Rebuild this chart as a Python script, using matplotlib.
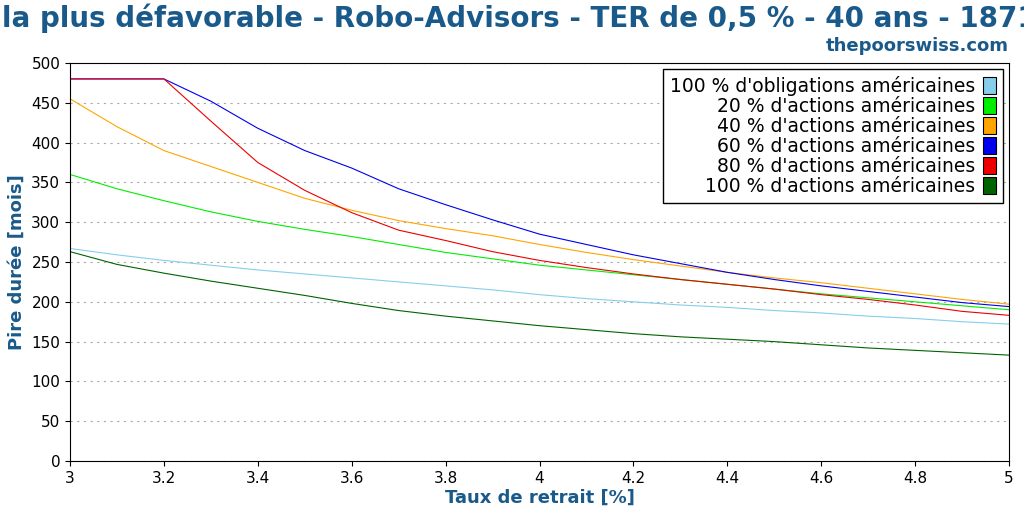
import matplotlib.pyplot as plt
import matplotlib.patches as mpatches
import numpy as np

taux = [3.0, 3.1, 3.2, 3.3, 3.4, 3.5, 3.6, 3.7, 3.8, 3.9, 4.0,
        4.1, 4.2, 4.3, 4.4, 4.5, 4.6, 4.7, 4.8, 4.9, 5.0]

oblig_100 = [267, 259, 252, 246, 240, 235, 230, 225, 220, 215, 209,
             204, 200, 196, 193, 189, 186, 182, 179, 175, 172]
actions_20 = [360, 342, 327, 313, 301, 291, 282, 272, 262, 254, 246,
              240, 234, 228, 222, 216, 210, 205, 200, 195, 190]
actions_40 = [455, 420, 390, 370, 350, 330, 315, 302, 292, 283, 272,
              262, 253, 245, 237, 230, 224, 217, 210, 203, 197]
actions_60 = [480, 480, 480, 452, 418, 390, 368, 342, 322, 303, 285,
              272, 259, 248, 237, 228, 220, 213, 206, 199, 194]
actions_80 = [480, 480, 480, 427, 375, 340, 312, 290, 277, 263, 252,
              243, 235, 228, 222, 216, 209, 203, 196, 188, 183]
actions_100 = [263, 247, 236, 226, 217, 208, 198, 189, 182, 176, 170,
               165, 160, 156, 153, 150, 146, 142, 139, 136, 133]

series = [
    ("100 % d'obligations américaines", oblig_100, '#87ceeb'),
    ("20 % d'actions américaines", actions_20, '#00ee00'),
    ("40 % d'actions américaines", actions_40, '#ffa500'),
    ("60 % d'actions américaines", actions_60, '#0000ee'),
    ("80 % d'actions américaines", actions_80, '#ee0000'),
    ("100 % d'actions américaines", actions_100, '#006400'),
]

blue = '#1a5a8a'
fig = plt.figure(figsize=(10.24, 5.12), dpi=100)
ax = fig.add_axes([70 / 1024, 51 / 512, 939 / 1024, 398 / 512])

handles = []
for label, ys, c in series:
    ax.plot(taux, ys, color=c, linewidth=0.8)
    handles.append(mpatches.Patch(facecolor=c, edgecolor='black', linewidth=0.8, label=label))

ax.set_xlim(3, 5)
ax.set_ylim(0, 500)
ax.set_xticks(np.arange(3, 5.01, 0.2))
ax.set_xticklabels(['3', '3.2', '3.4', '3.6', '3.8', '4', '4.2', '4.4', '4.6', '4.8', '5'])
ax.set_yticks(range(0, 501, 50))
ax.grid(axis='y', linestyle=(0, (2, 4)), color='#aaaaaa', linewidth=0.8)
ax.tick_params(labelsize=11)

ax.set_xlabel('Taux de retrait [%]', fontsize=13, fontweight='bold', color=blue, labelpad=2)
ax.set_ylabel('Pire durée [mois]', fontsize=13, fontweight='bold', color=blue)

leg = ax.legend(handles=handles, loc='upper right', markerfirst=False, fontsize=13.5,
                fancybox=False, framealpha=1, edgecolor='black',
                handlelength=0.7, handleheight=1.0, handletextpad=0.4,
                labelspacing=0.05, borderaxespad=0.3, alignment='right')
for t in leg.get_texts():
    t.set_ha('right')

fig.text(0.5, 0.965, "Durée la plus défavorable - Robo-Advisors - TER de 0,5 % - 40 ans - 1871-2020",
         ha='center', va='center', fontsize=20, fontweight='bold', color=blue)
fig.text(1009 / 1024, 0.91, 'thepoorswiss.com', ha='right', va='center',
         fontsize=13, fontweight='bold', color=blue)

fig.savefig('out.png', dpi=100)
